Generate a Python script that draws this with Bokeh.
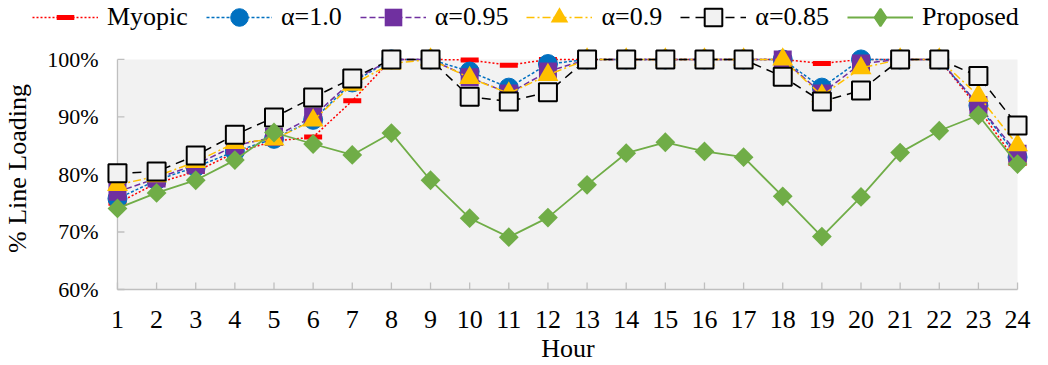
import math
from bokeh.plotting import figure
from bokeh.layouts import column
from bokeh.models import Range1d, FixedTicker, Legend, LegendItem, BoxAnnotation
from bokeh.embed import file_html
from bokeh.resources import INLINE

# ---------------- data ----------------
HOURS = list(range(1, 25))
X_TICK_LABELS = [str(h) for h in HOURS]
Y_TICKS = [60, 70, 80, 90, 100]
Y_TICK_LABELS = ["60%", "70%", "80%", "90%", "100%"]

MYOPIC    = [75.0, 78.5, 80.5, 83.8, 85.8, 86.5, 92.8, 100, 100, 99.9, 99.0, 100, 100, 100, 100, 100, 100, 100, 99.3, 100, 100, 100, 91.5, 81.9]
ALPHA_100 = [75.8, 79.0, 81.3, 84.0, 86.2, 89.5, 96.0, 100, 100, 97.9, 95.1, 99.2, 100, 100, 100, 100, 100, 100, 95.1, 100, 100, 100, 92.0, 83.0]
ALPHA_095 = [77.0, 79.3, 81.7, 85.0, 86.5, 90.1, 96.3, 100, 100, 96.9, 94.1, 97.9, 100, 100, 100, 100, 100, 100, 94.1, 99.3, 100, 100, 92.1, 83.6]
ALPHA_090 = [78.2, 79.7, 82.2, 85.5, 86.1, 89.4, 95.6, 99.3, 100, 96.8, 94.1, 97.3, 100, 100, 100, 100, 100, 100, 93.7, 98.5, 100, 100, 93.7, 85.1]
ALPHA_085 = [80.2, 80.5, 83.3, 86.9, 89.9, 93.4, 96.7, 100, 100, 93.5, 92.7, 94.3, 100, 100, 100, 100, 100, 97.0, 92.7, 94.6, 100, 100, 97.1, 88.5]
PROPOSED  = [74.1, 76.8, 79.0, 82.5, 87.3, 85.3, 83.4, 87.2, 79.0, 72.4, 69.1, 72.5, 78.2, 83.7, 85.6, 84.0, 83.0, 76.2, 69.2, 76.1, 83.8, 87.6, 90.3, 81.8]

SERIES_NAMES = ["Myopic", "\u03b1=1.0", "\u03b1=0.95", "\u03b1=0.9", "\u03b1=0.85", "Proposed"]
SERIES_VALUES = [MYOPIC, ALPHA_100, ALPHA_095, ALPHA_090, ALPHA_085, PROPOSED]

# ---------------- styles ----------------
STYLES = [
    dict(color="#FF0000", dash="2 2", lw=1.5,
         marker=dict(marker="dash", size=18, line_color="#FF0000", line_width=5, fill_color=None)),
    dict(color="#0070C0", dash="3 2", lw=1.5,
         marker=dict(marker="circle", size=19, line_color="#0070C0", line_width=1, fill_color="#0070C0")),
    dict(color="#7030A0", dash="6 3", lw=1.5,
         marker=dict(marker="square", size=18, line_color=None, fill_color="#7030A0")),
    dict(color="#FFC000", dash="8 3 2 3", lw=1.5,
         marker=dict(marker="triangle", size=21, line_color=None, fill_color="#FFC000")),
    dict(color="#000000", dash="9 6", lw=1.5,
         marker=dict(marker="square", size=18, line_color="#000000", line_width=2, fill_color="#F2F2F2")),
    dict(color="#70AD47", dash="solid", lw=1.8,
         marker=dict(marker="square", size=14, angle=math.pi / 4, line_color=None, fill_color="#70AD47")),
]
# legend swatches (the legend does not rotate markers, so use a diamond there)
LEGEND_MARKERS = [st["marker"] for st in STYLES[:-1]] + [
    dict(marker="diamond", size=18, line_color="#70AD47", line_width=2, fill_color="#70AD47")]

FONT = "Liberation Serif"
W = 1048
LEG_FIG_H = 34
MAIN_H = 365 - LEG_FIG_H

# main frame geometry (pixels, in main-figure coordinates)
F_LEFT, F_RIGHT = 102, 1030
F_TOP, F_BOTTOM = 45 - LEG_FIG_H, 292 - LEG_FIG_H
PX_X0, PX_X1 = 114, 1017   # pixel of first / last hour
PX_Y100, PX_Y60 = 59 - LEG_FIG_H, 290 - LEG_FIG_H

sx = (PX_X1 - PX_X0) / (HOURS[-1] - HOURS[0])
sy = (PX_Y60 - PX_Y100) / (Y_TICKS[-1] - Y_TICKS[0])
x_start = HOURS[0] - (PX_X0 - F_LEFT) / sx
x_end = HOURS[-1] + (F_RIGHT - PX_X1) / sx
y_end = Y_TICKS[-1] + (PX_Y100 - F_TOP) / sy
y_start = Y_TICKS[0] - (F_BOTTOM - PX_Y60) / sy

p = figure(width=W, height=MAIN_H, output_backend="svg", toolbar_location=None,
           x_range=Range1d(x_start, x_end), y_range=Range1d(y_start, y_end),
           min_border_left=F_LEFT, min_border_right=W - F_RIGHT,
           min_border_top=F_TOP, min_border_bottom=MAIN_H - F_BOTTOM)
p.frame_align = False
p.outline_line_color = None
p.background_fill_color = "white"
p.border_fill_color = "white"
p.xgrid.visible = False
p.ygrid.visible = False

# grey plot area
p.add_layout(BoxAnnotation(left=HOURS[0], right=HOURS[-1], bottom=Y_TICKS[0], top=Y_TICKS[-1],
                           fill_color="#F2F2F2", fill_alpha=1.0, line_color=None, level="underlay"))

# axis lines and inside ticks
AX_COLOR = "#BFBFBF"
tick_dx = 7 / sx
tick_dy = 7 / sy
p.segment(x0=[HOURS[0], HOURS[0]], y0=[Y_TICKS[0], Y_TICKS[0]],
          x1=[HOURS[0], HOURS[-1]], y1=[Y_TICKS[-1], Y_TICKS[0]],
          line_color=AX_COLOR, line_width=1.3)
p.segment(x0=[HOURS[0]] * len(Y_TICKS), y0=Y_TICKS,
          x1=[HOURS[0] + tick_dx] * len(Y_TICKS), y1=Y_TICKS,
          line_color=AX_COLOR, line_width=1.3)
p.segment(x0=HOURS, y0=[Y_TICKS[0]] * len(HOURS),
          x1=HOURS, y1=[Y_TICKS[0] + tick_dy] * len(HOURS),
          line_color=AX_COLOR, line_width=1.3)

for vals, st in zip(SERIES_VALUES, STYLES):
    p.line(HOURS, vals, line_color=st["color"], line_width=st["lw"], line_dash=st["dash"])
    p.scatter(HOURS, vals, **st["marker"])

# axes
p.xaxis.ticker = FixedTicker(ticks=HOURS)
p.xaxis.major_label_overrides = dict(zip(HOURS, X_TICK_LABELS))
p.yaxis.ticker = FixedTicker(ticks=Y_TICKS)
p.yaxis.major_label_overrides = dict(zip(Y_TICKS, Y_TICK_LABELS))
for ax in (p.xaxis, p.yaxis):
    ax.axis_line_color = None
    ax.major_tick_line_color = None
    ax.minor_tick_line_color = None
    ax.major_tick_out = 0
    ax.major_tick_in = 0
    ax.major_label_text_font = FONT
    ax.major_label_text_color = "black"
    ax.axis_label_text_font = FONT
    ax.axis_label_text_font_style = "normal"
    ax.axis_label_text_font_size = "26px"
    ax.axis_label_text_color = "black"
p.xaxis.major_label_text_font_size = "26px"
p.yaxis.major_label_text_font_size = "22px"
p.xaxis.major_label_standoff = 19
p.yaxis.major_label_standoff = 7
p.xaxis.axis_label = "Hour"
p.yaxis.axis_label = "% Line Loading"
p.xaxis.axis_label_standoff = 3
p.yaxis.axis_label_standoff = 12

# ---------------- legend (own strip above the plot) ----------------
# the same series are drawn here outside the visible range, only to feed the legend
lf = figure(width=W, height=LEG_FIG_H, output_backend="svg", toolbar_location=None,
            x_range=Range1d(-2, -1), y_range=Range1d(-2, -1), x_axis_type=None, y_axis_type=None,
            min_border=0, min_border_left=0, min_border_right=0, min_border_top=0, min_border_bottom=0)
lf.frame_align = False
lf.outline_line_color = None
lf.xgrid.visible = False
lf.ygrid.visible = False
items = []
for name, vals, st, mk in zip(SERIES_NAMES, SERIES_VALUES, STYLES, LEGEND_MARKERS):
    lr = lf.line(HOURS, vals, line_color=st["color"], line_width=st["lw"], line_dash=st["dash"])
    sr = lf.scatter(HOURS, vals, **mk)
    items.append(LegendItem(label=name, renderers=[lr, sr]))

legend = Legend(items=items, orientation="horizontal", location="left",
                glyph_width=66, glyph_height=44, label_standoff=9, spacing=18,
                padding=0, margin=32, border_line_color=None, background_fill_alpha=0,
                label_text_font=FONT, label_text_font_size="26px", label_text_color="black")
lf.add_layout(legend, "center")

layout = column(lf, p, spacing=0)
open("out.html", "w").write(file_html(layout, INLINE))
